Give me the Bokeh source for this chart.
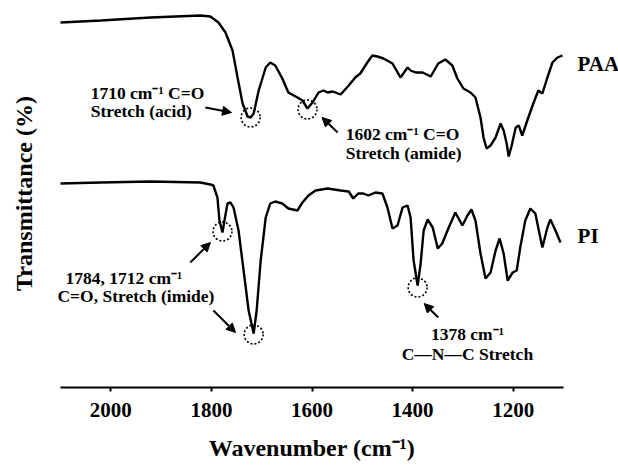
import math
from bokeh.plotting import figure
from bokeh.models import Range1d, Label, Arrow, NormalHead, FixedTicker
from bokeh.embed import file_html
from bokeh.resources import INLINE

# ---- data (wavenumber in cm^-1, transmittance in arbitrary offset units) ----
paa_wn = [2100, 2020, 1921, 1822, 1802, 1786, 1772, 1758, 1748, 1738, 1728, 1722, 1716,
          1706, 1692, 1683, 1673, 1659, 1647, 1629, 1619, 1609, 1599, 1587, 1577, 1569,
          1559, 1543, 1527, 1514, 1504, 1490, 1480, 1470, 1458, 1440, 1424, 1410, 1404,
          1394, 1380, 1364, 1349, 1335, 1321, 1311, 1299, 1285, 1275, 1265, 1259, 1253,
          1245, 1235, 1225, 1219, 1213, 1209, 1203, 1195, 1189, 1182, 1172, 1160, 1150,
          1142, 1132, 1122, 1112, 1102]
paa_t = [365, 367, 370, 372, 371, 365, 355, 337, 310, 284, 271, 270, 274,
         297, 320, 325, 322, 309, 295, 290, 287, 279, 285, 295, 297, 295,
         296, 293, 302, 310, 314, 325, 332, 331, 329, 324, 310, 320, 317,
         315, 315, 311, 324, 328, 322, 309, 299, 295, 290, 270, 250, 239,
         242, 250, 264, 257, 244, 231, 242, 260, 262, 252, 267, 284, 297,
         294, 310, 325, 330, 332]

pi_wn = [2100, 2020, 1921, 1822, 1802, 1796, 1788, 1784, 1778, 1774, 1768, 1762, 1756,
         1746, 1736, 1726, 1716, 1710, 1702, 1692, 1683, 1673, 1659, 1647, 1629, 1619,
         1607, 1593, 1569, 1543, 1527, 1518, 1508, 1498, 1488, 1474, 1460, 1450, 1440,
         1430, 1420, 1410, 1404, 1398, 1390, 1384, 1378, 1370, 1360, 1350, 1341, 1329,
         1315, 1301, 1291, 1283, 1275, 1265, 1255, 1245, 1235, 1227, 1219, 1211, 1201,
         1193, 1186, 1176, 1166, 1156, 1142, 1132, 1126, 1116, 1106]
pi_t = [204, 205, 206, 205, 203, 202, 190, 167, 155, 167, 184, 185, 180,
        157, 117, 77, 54, 77, 127, 170, 184, 186, 184, 179, 177, 185,
        192, 197, 199, 197, 196, 189, 194, 194, 192, 195, 194, 180, 159,
        162, 180, 182, 170, 127, 102, 124, 157, 168, 160, 139, 144, 159,
        175, 162, 172, 178, 167, 134, 109, 115, 137, 149, 134, 107, 115,
        117, 140, 167, 179, 174, 140, 160, 168, 157, 145]

x_ticks = [2000, 1800, 1600, 1400, 1200]
x_limits = (1100, 2100)

# marked peaks (dotted circles)
mark_wn = [1722, 1609, 1778, 1716, 1390]
mark_t = [270, 278, 156, 53, 100]

FONT = "Liberation Serif"

# frame spans x = 5..618 px; axis drawn only over 2100..1100 (60..563 px)
px_per_unit = 0.503
x_start = x_limits[1] + 55 / px_per_unit
x_end = x_limits[1] - 558 / px_per_unit

p = figure(width=618, height=465, output_backend="svg", toolbar_location=None,
           x_range=Range1d(x_start, x_end), y_range=Range1d(0, 387),
           min_border_left=5, min_border_right=0, min_border_top=0, min_border_bottom=78)
p.outline_line_color = None
p.grid.visible = False
p.yaxis.visible = False
p.background_fill_color = "white"
p.border_fill_color = "white"

# x axis
xa = p.xaxis[0]
xa.bounds = x_limits
xa.ticker = FixedTicker(ticks=x_ticks, minor_ticks=[])
xa.axis_line_width = 2
xa.axis_line_color = "black"
xa.major_tick_line_width = 2
xa.major_tick_in = 0
xa.major_tick_out = 4
xa.minor_tick_line_color = None
xa.major_label_text_font = FONT
xa.major_label_text_font_style = "bold"
xa.major_label_text_font_size = "21px"
xa.major_label_text_color = "black"
xa.major_label_standoff = 11
xa.axis_label = "Wavenumber (cm\u207b\u00b9)"
xa.axis_label_text_font = FONT
xa.axis_label_text_font_style = "bold"
xa.axis_label_text_font_size = "24px"
xa.axis_label_text_color = "black"
xa.axis_label_standoff = 15

# y axis title (drawn as rotated text)
p.add_layout(Label(x=2173, y=194, text="Transmittance (%)", angle=math.pi / 2,
                   text_font=FONT, text_font_style="bold", text_font_size="24px",
                   text_color="black", text_align="center", text_baseline="middle"))

# spectra
p.line(paa_wn, paa_t, line_color="black", line_width=2.4)
p.line(pi_wn, pi_t, line_color="black", line_width=2.4)

# dotted circles
p.scatter(mark_wn, mark_t, marker="circle", size=19, fill_color=None,
          line_color="black", line_width=1.6, line_dash="2 2")

def arrow(x0, y0, x1, y1):
    p.add_layout(Arrow(x_start=x0, y_start=y0, x_end=x1, y_end=y1,
                       line_color="black", line_width=2,
                       end=NormalHead(size=9, fill_color="black", line_color="black", line_width=1)))

arrow(1812, 280, 1760, 275)
arrow(1549, 255, 1580, 270)
arrow(1842, 125, 1802, 145)
arrow(1796, 77, 1752, 55)
arrow(1349, 70, 1377, 84)

def label(x, y, text, align="left", size="17.5px"):
    p.add_layout(Label(x=x, y=y, text=text, text_font=FONT, text_font_style="bold",
                       text_font_size=size, text_color="black",
                       text_align=align, text_baseline="middle"))

label(2040, 295, "1710 cm\u207b\u00b9 C=O")
label(2040, 277, "Stretch (acid)")
label(1533, 254, "1602 cm\u207b\u00b9 C=O")
label(1533, 235, "Stretch (amide)")
label(2090, 110, "1784, 1712 cm\u207b\u00b9")
label(2106, 92, "C=O, Stretch (imide)")
label(1291, 54, "1378 cm\u207b\u00b9", align="center")
label(1291, 34, "C\u2014N\u2014C Stretch", align="center")
label(1072, 324, "PAA", size="21px")
label(1072, 152, "PI", size="21px")

open("out.html", "w").write(file_html(p, INLINE))
